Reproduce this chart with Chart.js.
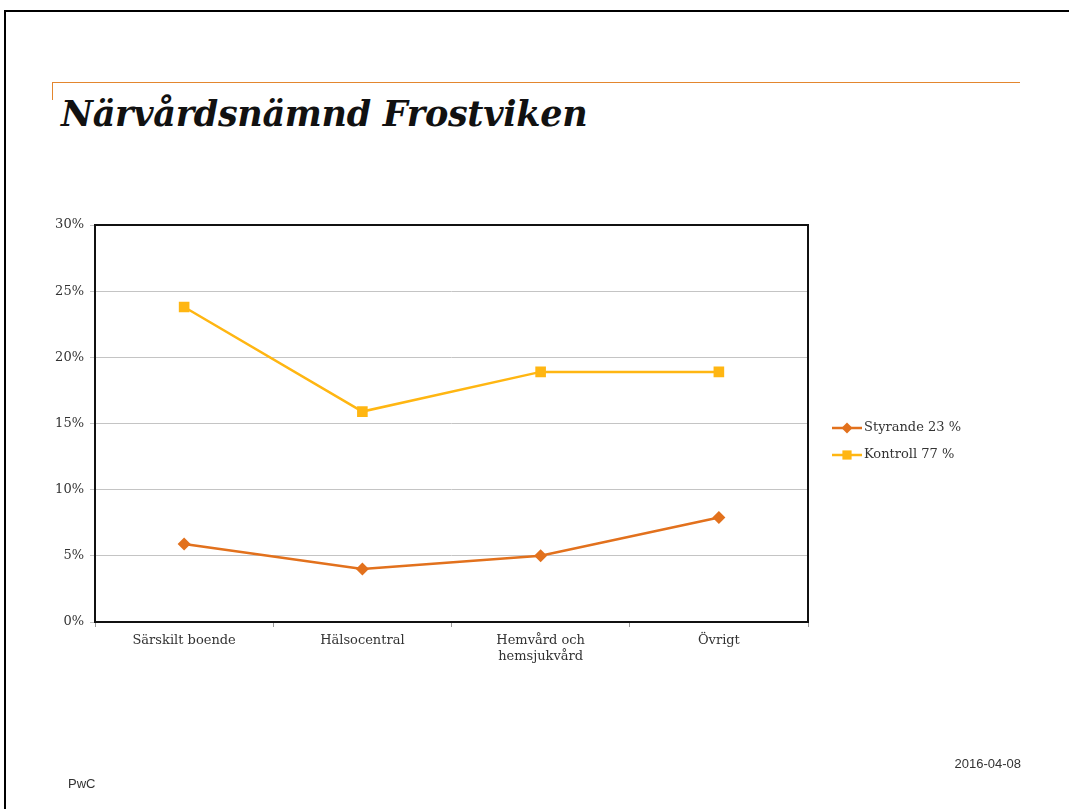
<!DOCTYPE html>
<html>
<head>
<meta charset="utf-8">
<script src="https://cdn.jsdelivr.net/npm/chart.js@4/dist/chart.umd.min.js"></script>
<style>
  html, body { margin: 0; padding: 0; background: #fff; }
  #page { position: relative; width: 1069px; height: 809px; overflow: hidden; }
  #frame { position: absolute; left: 4px; top: 10px; width: 1100px; height: 900px;
           border-top: 2px solid #000; border-left: 2px solid #000; }
  #rule { position: absolute; left: 52px; top: 82px; width: 968px; height: 0;
          border-top: 1.5px solid #E3862E; }
  #ruleTick { position: absolute; left: 52px; top: 82px; width: 0; height: 18px;
              border-left: 1.5px solid #E3862E; }
  #title { position: absolute; left: 61px; top: 93px; font-family: "DejaVu Serif", serif;
           font-weight: bold; font-style: italic; font-size: 35px; color: #111; letter-spacing: -0.3px; }
  #pwc { position: absolute; left: 68px; top: 776px; font-family: "Liberation Sans", sans-serif;
         font-size: 13px; color: #333; }
  #date { position: absolute; right: 48px; top: 756px; font-family: "Liberation Sans", sans-serif;
          font-size: 13px; color: #333; }
  #wrap { position: absolute; left: 0; top: 0; width: 1069px; height: 809px; }
</style>
</head>
<body>
<div id="page">
  <div id="frame"></div>
  <div id="rule"></div>
  <div id="ruleTick"></div>
  <div id="title">Närvårdsnämnd Frostviken</div>
  <div id="wrap"><canvas id="chart"></canvas></div>
  <div id="pwc">PwC</div>
  <div id="date">2016-04-08</div>
</div>
<script>
'use strict';

var categories = ['Särskilt boende', 'Hälsocentral', ['Hemvård och', 'hemsjukvård'], 'Övrigt'];
var styrande = [5.9, 4.0, 5.0, 7.9];
var kontroll = [23.8, 15.9, 18.9, 18.9];
var seriesNames = ['Styrande 23 %', 'Kontroll 77 %'];
var yTicks = [0, 5, 10, 15, 20, 25, 30];

var orange = '#E2711D';
var yellow = '#FFB612';
var serif = '"DejaVu Serif", Georgia, serif';

// frame round the plot area
var plotFrame = {
  id: 'plotFrame',
  afterDraw: function(chart) {
    var a = chart.chartArea, ctx = chart.ctx;
    ctx.save();
    ctx.strokeStyle = '#111';
    ctx.lineWidth = 2;
    ctx.strokeRect(a.left, a.top, a.right - a.left, a.bottom - a.top);
    ctx.restore();
  }
};

// legend: line with marker, right of the plot
var sideLegend = {
  id: 'sideLegend',
  afterDraw: function(chart) {
    var ctx = chart.ctx, a = chart.chartArea;
    ctx.save();
    chart.data.datasets.forEach(function(ds, i) {
      var x0 = a.right + 24, y = 428 + i * 27;
      ctx.strokeStyle = ds.borderColor;
      ctx.lineWidth = 2.5;
      ctx.beginPath();
      ctx.moveTo(x0, y);
      ctx.lineTo(x0 + 30, y);
      ctx.stroke();
      ctx.fillStyle = ds.borderColor;
      Chart.helpers.drawPoint(ctx, { pointStyle: ds.pointStyle, radius: ds.pointRadius - 1, borderWidth: 0 }, x0 + 15, y);
      ctx.fillStyle = '#333';
      ctx.font = '13px ' + serif;
      ctx.textBaseline = 'middle';
      ctx.fillText(ds.label, x0 + 32, y);
    });
    ctx.restore();
  }
};

new Chart(document.getElementById('chart'), {
  type: 'line',
  data: {
    labels: categories,
    datasets: [
      {
        label: seriesNames[0],
        data: styrande,
        borderColor: orange,
        backgroundColor: orange,
        borderWidth: 2.5,
        pointStyle: 'rectRot',
        pointRadius: 6.5,
        pointBorderWidth: 0,
        tension: 0
      },
      {
        label: seriesNames[1],
        data: kontroll,
        borderColor: yellow,
        backgroundColor: yellow,
        borderWidth: 2.5,
        pointStyle: 'rect',
        pointRadius: 7.5,
        pointBorderWidth: 0,
        tension: 0
      }
    ]
  },
  options: {
    responsive: true,
    maintainAspectRatio: false,
    animation: false,
    layout: { padding: { left: 38, top: 225, right: 261, bottom: 127 } },
    plugins: {
      legend: { display: false },
      tooltip: { enabled: false }
    },
    scales: {
      x: {
        offset: true,
        afterFit: function(s) { s.height = 60; },
        grid: { offset: true, drawOnChartArea: false, drawTicks: true, tickLength: 5, color: '#999' },
        border: { display: false },
        ticks: { color: '#333', font: { family: serif, size: 13 }, maxRotation: 0, padding: 6 }
      },
      y: {
        min: 0,
        max: 30,
        afterFit: function(s) { s.width = 57; },
        afterBuildTicks: function(s) { s.ticks = yTicks.map(function(v) { return { value: v }; }); },
        grid: { color: '#C4C4C4', lineWidth: 1, tickLength: 5, drawTicks: true },
        border: { display: false },
        ticks: {
          color: '#333',
          font: { family: serif, size: 13 },
          padding: 6,
          callback: function(v) { return v + '%'; }
        }
      }
    }
  },
  plugins: [plotFrame, sideLegend]
});
</script>
</body>
</html>
